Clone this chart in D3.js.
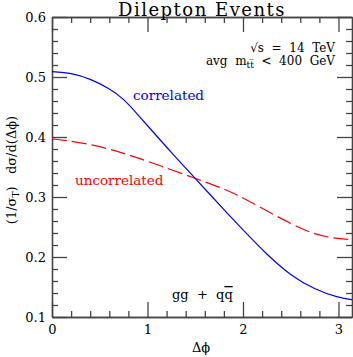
<!DOCTYPE html>
<html>
<head>
<meta charset="utf-8">
<script src="https://cdn.jsdelivr.net/npm/d3@7"></script>
<style>
  body { margin: 0; background: #fff; }
  svg { display: block; font-family: 'DejaVu Serif', serif; }
  text { white-space: pre; }
  .axis path, .axis line { stroke: #444; stroke-width: 1.3; }
  .axis text { font-size: 13px; fill: #000; font-family: 'DejaVu Serif', serif; }
</style>
</head>
<body>
<svg id="plot"></svg>
<script>
// values
var dphi = [0, 0.2, 0.4, 0.6, 0.75, 0.9, 1.05, 1.2, 1.4, 1.5, 1.65, 1.8, 2.0, 2.25, 2.5, 2.75, 3.0, 3.1416];
var correlated = [0.509, 0.507, 0.497, 0.481, 0.464, 0.437, 0.410, 0.383, 0.348, 0.331, 0.305, 0.279, 0.245, 0.204, 0.169, 0.146, 0.132, 0.129];
var dphiU = [0, 0.35, 0.7, 1.05, 1.5, 1.8, 2.0, 2.35, 2.67, 2.9, 3.1416];
var uncorrelated = [0.397, 0.390, 0.376, 0.357, 0.331, 0.314, 0.299, 0.268, 0.242, 0.232, 0.229];
var xTicks = [0, 1, 2, 3];
var yTicks = [0.1, 0.2, 0.3, 0.4, 0.5, 0.6];

var width = 353, height = 357,
	margin = {top: 17, right: 1, bottom: 40, left: 52},
	svg = d3.select('svg#plot').attr('width', width).attr('height', height);

var x = d3.scaleLinear().domain([0, Math.PI]).range([margin.left, width - margin.right]),
	y = d3.scaleLinear().domain([0.1, 0.6]).range([height - margin.bottom, margin.top]);

var xMinor = d3.range(0.2, Math.PI, 0.2).filter(function(d) { return Math.abs(d - Math.round(d)) > 1e-6; }),
	yMinor = d3.range(0.12, 0.6, 0.02).filter(function(d) { return Math.abs(d * 10 - Math.round(d * 10)) > 1e-6; });

function addAxis(axis, tx, ty, labels) {
	var g = svg.append('g').attr('class', 'axis').attr('transform', 'translate(' + tx + ',' + ty + ')').call(axis);
	if (!labels) g.selectAll('text').remove();
	return g;
}

// bottom
addAxis(d3.axisBottom(x).tickValues(xTicks).tickSizeInner(-15).tickSizeOuter(0).tickPadding(8).tickFormat(d3.format('d')), 0, y(0.1), true);
addAxis(d3.axisBottom(x).tickValues(xMinor).tickSizeInner(-6).tickSizeOuter(0), 0, y(0.1), false);
// top
addAxis(d3.axisTop(x).tickValues(xTicks).tickSizeInner(-15).tickSizeOuter(0), 0, y(0.6), false);
addAxis(d3.axisTop(x).tickValues(xMinor).tickSizeInner(-6).tickSizeOuter(0), 0, y(0.6), false);
// left
addAxis(d3.axisLeft(y).tickValues(yTicks).tickSizeInner(-15).tickSizeOuter(0).tickPadding(6).tickFormat(d3.format('.1f')), x(0), 0, true);
addAxis(d3.axisLeft(y).tickValues(yMinor).tickSizeInner(-6).tickSizeOuter(0), x(0), 0, false);
// right
addAxis(d3.axisRight(y).tickValues(yTicks).tickSizeInner(-15).tickSizeOuter(0), x(Math.PI), 0, false);
addAxis(d3.axisRight(y).tickValues(yMinor).tickSizeInner(-6).tickSizeOuter(0), x(Math.PI), 0, false);

var line = d3.line()
	.x(function(d) { return x(d[0]); })
	.y(function(d) { return y(d[1]); })
	.curve(d3.curveBasis);

svg.append('path')
	.datum(d3.zip(dphiU, uncorrelated))
	.attr('d', line)
	.attr('fill', 'none')
	.attr('stroke', '#ff0000')
	.attr('stroke-width', 1.2)
	.attr('stroke-dasharray', '15,5');

svg.append('path')
	.datum(d3.zip(dphi, correlated))
	.attr('d', line)
	.attr('fill', 'none')
	.attr('stroke', '#0000ff')
	.attr('stroke-width', 1.2);

// title
svg.append('text')
	.attr('x', (x(0) + x(Math.PI)) / 2)
	.attr('y', 16)
	.attr('text-anchor', 'middle')
	.style('font-size', '18px')
	.style('letter-spacing', '1.5px')
	.text('Dilepton Events');

// curve labels
svg.append('text').attr('x', 133).attr('y', 100).attr('fill', '#0000ff').style('font-size', '13.5px').text('correlated');
svg.append('text').attr('x', 75).attr('y', 185).attr('fill', '#ff0000').style('font-size', '13.5px').text('uncorrelated');

// annotations
var note = svg.append('text').attr('x', 335).attr('y', 52).attr('text-anchor', 'end').style('font-size', '12px');
note.append('tspan').text('\u221As  =  14  TeV');
var note2 = svg.append('text').attr('x', 335).attr('y', 65).attr('text-anchor', 'end').style('font-size', '12px');
note2.append('tspan').text('avg  m');
note2.append('tspan').attr('dy', 3).style('font-size', '9px').text('t\u0074\u0305');
note2.append('tspan').attr('dy', -3).text('  <  400  GeV');

var gg = svg.append('text').attr('x', 172).attr('y', 299).style('font-size', '13px');
gg.append('tspan').text('gg  +  q');
gg.append('tspan').style('text-decoration', 'overline').text('q');

// axis titles
svg.append('text')
	.attr('x', 201)
	.attr('y', 352)
	.attr('text-anchor', 'middle')
	.style('font-size', '13px')
	.text('\u0394\u03d5');

var yl = svg.append('text')
	.attr('transform', 'translate(16,170) rotate(-90)')
	.attr('text-anchor', 'middle')
	.style('font-size', '13px');
yl.append('tspan').text('(1/\u03c3');
yl.append('tspan').attr('dy', 3).style('font-size', '9px').text('T');
yl.append('tspan').attr('dy', -3).text(')   d\u03c3/d(\u0394\u03d5)');
</script>
</body>
</html>
